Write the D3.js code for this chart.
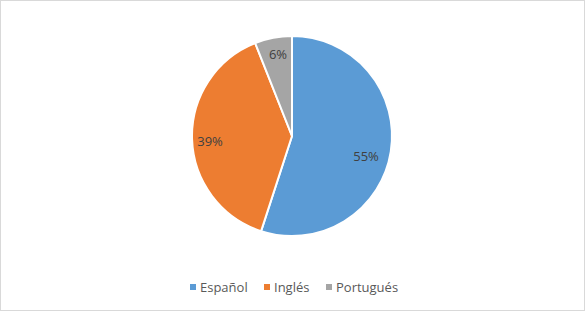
<!DOCTYPE html>
<html><head><meta charset="utf-8">
<script src="https://cdn.jsdelivr.net/npm/d3@7"></script>
<style>body{margin:0;background:#fff}svg{display:block}</style>
</head><body>
<svg id="c" width="585" height="311"></svg>
<script>
const categories = ["Español", "Inglés", "Portugués"];
const values = [55, 39, 6];
const labels = ["55%", "39%", "6%"];
const colors = ["#5B9BD5", "#ED7D31", "#A5A5A5"];

const svg = d3.select("#c");
const W = 585, H = 311;
svg.append("rect").attr("x", 0.5).attr("y", 0.5).attr("width", W - 1).attr("height", H - 1)
  .attr("fill", "#fff").attr("stroke", "#d9d9d9");

const cx = 292, cy = 136, R = 100;
const labelNudge = [[-5, 7], [-2, 2], [1, -3]];
const pie = d3.pie().sort(null).value(d => d)(values);
const arc = d3.arc().innerRadius(0).outerRadius(R);
const lab = d3.arc().innerRadius(80).outerRadius(80);
const g = svg.append("g").attr("transform", `translate(${cx},${cy})`);
g.selectAll("path").data(pie).join("path")
  .attr("d", arc).attr("fill", (d, i) => colors[i])
  .attr("stroke", "#fff").attr("stroke-width", 2).attr("stroke-linejoin", "round");
g.selectAll("text").data(pie).join("text")
  .attr("transform", (d, i) => { const c = lab.centroid(d); return `translate(${c[0] + labelNudge[i][0]},${c[1] + labelNudge[i][1]})`; })
  .attr("text-anchor", "middle").attr("dominant-baseline", "central")
  .attr("font-family", "'Open Sans', sans-serif").attr("font-size", 13)
  .attr("fill", "#404040").text((d, i) => labels[i]);

// legend
const lx = [190, 264, 326];
const leg = svg.append("g").attr("font-family", "'Open Sans', sans-serif").attr("font-size", 13).attr("fill", "#595959");
categories.forEach((c, i) => {
  leg.append("rect").attr("x", lx[i]).attr("y", 284).attr("width", 6).attr("height", 6).attr("fill", colors[i]);
  leg.append("text").attr("x", lx[i] + 10).attr("y", 287).attr("dominant-baseline", "central").text(c);
});
</script>
</body></html>
